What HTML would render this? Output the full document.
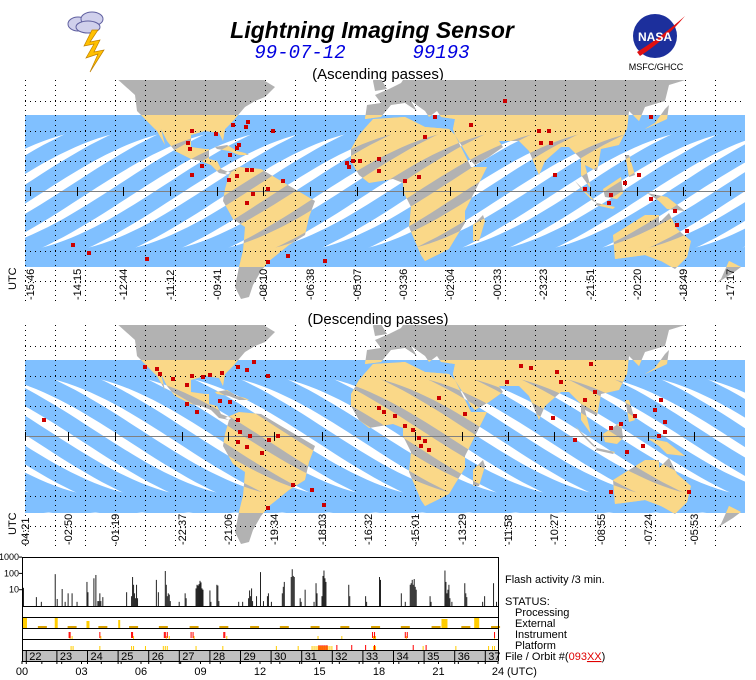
<!DOCTYPE html>
<html><head><meta charset="utf-8"><style>
html,body{margin:0;padding:0;background:#fff;width:756px;height:680px;overflow:hidden}
svg{display:block;font-family:"Liberation Sans",sans-serif}
</style></head><body>
<svg id="root" width="756" height="680" viewBox="0 0 756 680" xmlns="http://www.w3.org/2000/svg">
<defs>
<clipPath id="clipMap1"><rect x="25" y="80" width="720" height="222"/></clipPath>
<clipPath id="clipMap2"><rect x="25" y="325" width="720" height="222"/></clipPath>
<clipPath id="band1"><rect x="25" y="115" width="720" height="152"/></clipPath>
<clipPath id="band2"><rect x="25" y="360" width="720" height="153"/></clipPath>
<clipPath id="land1"></clipPath>
<clipPath id="land2"></clipPath>
</defs>
<g>
<ellipse cx="78" cy="24" rx="10" ry="7" fill="#d0d0ec" stroke="#6060a0"/>
<ellipse cx="92" cy="19" rx="11" ry="7" fill="#d0d0ec" stroke="#6060a0"/>
<ellipse cx="88" cy="27" rx="12" ry="6" fill="#d0d0ec" stroke="#6060a0"/>
<polygon points="92,30 84,46 94,44 86,58 98,54 90,72 104,50 94,52 100,40 90,42 98,30" fill="#ffc000" stroke="#c08000" stroke-width="0.7"/>
</g>
<text x="372" y="38" text-anchor="middle" font-size="23" font-weight="bold" font-style="italic">Lightning Imaging Sensor</text>
<text x="300" y="58" text-anchor="middle" font-size="19" font-style="italic" fill="#0000e0" font-family="Liberation Mono, monospace">99-07-12</text>
<text x="441" y="58" text-anchor="middle" font-size="19" font-style="italic" fill="#0000e0" font-family="Liberation Mono, monospace">99193</text>
<text x="378" y="79" text-anchor="middle" font-size="15">(Ascending passes)</text>
<g>
<circle cx="655" cy="36" r="22" fill="#1c2f9c"/>
<path d="M637,52 Q660,38 685,16 Q665,40 640,56 Z" fill="#e01010"/>
<text x="655" y="41" text-anchor="middle" font-size="12" font-weight="bold" fill="#fff">NASA</text>
<text x="656" y="70" text-anchor="middle" font-size="9">MSFC/GHCC</text>
</g>
<g id="map1"></g>
<text x="378" y="324" text-anchor="middle" font-size="15">(Descending passes)</text>
<g id="map2"></g>
<g id="panel"></g>
</svg>
<script>
var ascTickLabels = ["-15:46","-14:15","-12:44","-11:12","-09:41","-08:10","-06:38","-05:07","-03:36","-02:04","-00:33","-23:23","-21:51","-20:20","-18:49","-17:17"];
var descTickLabels = ["04:21","-02:50","-01:19","-22:37","-21:06","-19:34","-18:03","-16:32","-15:01","-13:29","-11:58","-10:27","-08:55","-07:24","-05:53"];
var descTickLons = [-180,-158.5,-135,-101.5,-78.5,-55.5,-31.5,-8.5,15,38.5,61.5,84.5,108,131.5,154.5];
var ascLon = [-177.5,-154,-131,-107.5,-84,-61,-37.5,-14,9,32.5,56,79,102.5,126,149,172.5];
var ascFlashLon = [-68.5,-69.5,-76,-84.5,-96.5,-56,-98.5,-97.5,-74,-73,-77.5,-91.5,-96.5,-78,-74,-69,-66.5,-51,-58.5,-66,-69,-156,-148,-119,-58.5,-48.5,-30,-19,-16,-12.5,17,10,-3,-18,20,43,78,83,85,100,112,113,120,127,133,145,146,77,60,82,133,151,-3,25];
var ascFlashLat = [34.5,32,33,28.5,30,30,24,21,21.5,23,18,12.5,8,5.5,7.5,10.5,10.5,5,1,-1.5,-6,-27,-31,-34,-35.5,-32.5,-35,14,15,15,7,5,16,12,27,33,24,24,8,1,-6,-2,4,8,-4,-10,-17,30,45,30,37,-20,10,37];
var descFlashLon = [-120,-114,-112.5,-106,-99,-96.5,-91,-87.5,-81.5,-73.5,-69,-65.5,-58.5,-82.5,-77.5,-99,-94,-73.5,-69,-61.5,-58,-53.5,-73.5,-72.5,-67.5,-46,-36.5,-30.5,-58.5,-170.5,-3,-0.5,5,10,14,17,20,18,22,27,40,61,68,73,86,88,103,100,105,113,118,125,135,138,140,140,121,129,137,113,152,84,95];
var descFlashLat = [34.5,33.5,31,28.5,25.5,30,29.5,30.5,31.5,34.5,33,37,30,17.5,17,16,12,-3,-5.5,-8.5,-2,0,8,2,0,-24.5,-27,-34.5,-36,8,14,12,10,5,3,-1,-2.5,-5,-7,19,11,27,35,34,32,27,36,18,22,4,6,10,13,18,7,2,-8,-5,0,-28,-28,9,-2];
var flashBins = [1,14,19,33,35,40,43,46,50,55,65,66,72,74,76,77,78,79,81,105,110,111,112,113,114,115,116,135,137,144,145,146,147,148,149,158,164,165,175,176,177,178,179,180,181,182,189,190,196,197,198,218,222,228,229,230,231,232,236,240,243,247,248,251,262,263,264,271,272,273,274,280,281,285,294,296,297,302,303,304,305,306,329,330,346,347,360,361,382,386,391,392,393,394,395,396,397,411,412,426,427,428,429,430,431,433,446,447,448,464,466,475,478];
var flashValues = [13,3.5,1.8,90,2.7,11,1.8,6,6,1.8,30,7,50,80,2,2,6,2,3.5,7,4,60,20,6,3,20,3,40,7,140,20,4,6,5,2,1.8,6,3,12,20,18,22,35,28,12,10,9,1.8,20,18,2,1.8,1.8,3,9,4,12,2,4,120,2,4,6,1.8,6,15,30,60,180,70,60,3,1.8,10,1.8,25,6,4,70,150,50,30,20,4,4,1.8,60,40,6,1.8,20,25,40,20,45,15,10,4,1.8,150,30,6,10,20,3,1.8,25,6,3.5,1.8,4,25,1.8];
var extStart = [16,46,77,108,138,169,199,230,260,291,321,352,382,413,443,473];
var extTallStart = [0,33,65,97,423,456];
var extTallWidth = [5,3,3,2,6,5];
var extTallHeight = [10,10,7,8,9,10];
var instRedBins = [47,48,78,110,111,143,144,146,170,172,203,204,353,355,386,388,476];
var instYellowBins = [48,50,79,112,145,148,173,206,298,322,354,355,356,387,476];
var platRedBins = [0,299,301,303,305,307,317,332,346,355,394,407];
var platYellowBins = [49,51,78,110,112,124,142,144,146,175,202,256,278,292,294,296,298,300,302,304,306,308,310,312,354,356,404,437,470,474,476];
var orbitLabels = ["22","23","24","25","26","27","28","29","30","31","32","33","34","35","36","37"];
var hourLabels = ["00","03","06","09","12","15","18","21","24"];

var LAND = [
[[-180,72],[-180,64],[-168,64],[-160,58],[-150,60],[-135,57],[-125,48],[-124,40],[-117,33],[-114,30],[-110,23],[-112,31],[-109,25],[-105,20],[-97,16],[-92,15],[-87,13],[-83,9],[-78,8],[-77,9],[-82,11],[-84,15],[-88,16],[-88,21],[-90,21],[-97,22],[-97,28],[-90,30],[-83,29],[-81,25],[-80,31],[-76,35],[-70,42],[-65,45],[-60,47],[-55,52],[-60,55],[-62,60],[-20,60],[-20,80],[-180,80]],
[[-85,22],[-79,23],[-74,20],[-70,19],[-68,18],[-73,18],[-78,20],[-84,21]],
[[-80,9],[-73,12],[-62,11],[-52,5],[-35,-5],[-38,-13],[-40,-22],[-48,-27],[-58,-35],[-62,-40],[-66,-47],[-68,-53],[-72,-54],[-75,-48],[-73,-38],[-71,-30],[-70,-18],[-76,-14],[-81,-5],[-80,1],[-78,8]],
[[-17,15],[-17,21],[-13,28],[-6,36],[10,37],[20,32],[32,31],[35,28],[43,12],[51,12],[45,0],[40,-10],[40,-16],[35,-24],[32,-29],[20,-35],[18,-32],[12,-18],[13,-8],[9,0],[9,4],[4,6],[-8,4],[-13,8]],
[[-10,36],[-9,43],[-2,44],[-5,48],[2,51],[8,54],[10,57],[5,62],[5,80],[180,80],[180,65],[160,60],[155,57],[142,53],[140,45],[130,42],[127,35],[122,40],[121,31],[117,23],[108,21],[106,10],[100,13],[103,1],[98,8],[98,16],[92,22],[88,22],[80,15],[77,8],[72,20],[67,25],[57,25],[59,22],[52,17],[45,13],[43,15],[35,28],[34,31],[35,36],[28,37],[26,40],[22,37],[20,40],[13,45],[16,40],[10,44],[3,43],[-2,37]],
[[114,-22],[122,-17],[130,-12],[137,-12],[137,-16],[142,-11],[146,-19],[153,-25],[151,-33],[145,-39],[138,-35],[130,-32],[115,-34]],
[[109,1],[118,7],[119,-1],[116,-4],[110,-3]],
[[95,5],[106,-6],[104,-5],[99,0]],
[[131,-1],[141,-3],[150,-10],[141,-9],[137,-5]],
[[130,31],[141,36],[142,43],[140,41],[135,34]],
[[44,-25],[47,-25],[50,-15],[49,-12],[44,-17]],
[[-5,50],[1,51],[-2,56],[-5,58],[-6,55]],
[[120,18],[122,18],[125,8],[122,7],[121,13]],
[[106,-6],[115,-8],[114,-9],[105,-7]],
[[166,-46],[174,-41],[178,-38],[172,-35],[168,-44]]
];

var NS='http://www.w3.org/2000/svg';
function mk(tag, attrs, parent){var e=document.createElementNS(NS,tag);for(var k in attrs)e.setAttribute(k,attrs[k]);if(parent)parent.appendChild(e);return e;}
function lonX(lon){return 385+lon*2;}
function latY(lat,eq){return eq-lat*2;}

function landPath(eq){
  var d='';
  LAND.forEach(function(p){p.forEach(function(pt,i){d+=(i?'L':'M')+lonX(pt[0]).toFixed(1)+','+latY(pt[1],eq).toFixed(1);});d+='Z';});
  return d;
}
function stripes(g, c0, eq, dir, color){
  var per=46.7, half=8, A=35*2;
  for(var k=-20;k<30;k++){
    var cx=c0+k*per;
    if(cx<-200||cx>950)continue;
    var up=[],dn=[];
    for(var t=-100;t<=100;t+=4){
      var x=cx+2*t, y=eq-dir*A*Math.sin(Math.PI*t/170);
      var dy=-dir*A*Math.cos(Math.PI*t/170)*Math.PI/170/2;
      var n=Math.sqrt(1+dy*dy);
      var nx=-dy/n, ny=1/n;
      up.push((x+nx*half).toFixed(1)+','+(y+ny*half).toFixed(1));
      dn.unshift((x-nx*half).toFixed(1)+','+(y-ny*half).toFixed(1));
    }
    var s=mk('polygon',{points:up.concat(dn).join(' '),fill:color},g);
    
    
  }
}

function buildMap(id, eq, clipMap, band, landClip, dir, stripeCenter, tickXs, labels, dotLon, dotLat, top, bottom){
  var root=document.getElementById(id);
  var g=mk('g',{'clip-path':'url(#'+clipMap+')'},root);
  var lp=landPath(eq);
  mk('path',{d:lp},document.getElementById(landClip));
  var sb=mk('g',{'clip-path':'url(#'+band+')'},g);
  
  
  stripes(sb,stripeCenter,eq,dir,'#80c0ff');
  var land=mk('path',{d:lp,fill:'#b2b2b2'},g);
  
  
  var lg=mk('g',{'clip-path':'url(#'+landClip+')'},g);
  var lb=mk('g',{'clip-path':'url(#'+band+')'},lg);
  
  
  stripes(lb,stripeCenter,eq,dir,'#fad888');
  for(var x=25;x<=745;x+=30){mk('line',{x1:x+0.5,y1:top,x2:x+0.5,y2:bottom,stroke:'#000','stroke-dasharray':'1 4'},g);}
  for(var k=-3;k<=3;k++){if(k===0)continue;var y=eq+k*30;mk('line',{x1:25,y1:y+0.5,x2:745,y2:y+0.5,stroke:'#000','stroke-dasharray':'1 4'},g);}
  var eqL=mk('line',{x1:25,y1:eq+0.5,x2:745,y2:eq+0.5,stroke:'#808080'},g);
  
  
  for(var i=0;i<dotLon.length;i++){
    var r=mk('rect',{x:lonX(dotLon[i])-2,y:latY(dotLat[i],eq)-2,width:4,height:4,fill:'#cc0000'},g);
    
    
  }
  for(var j=0;j<labels.length;j++){
    var tx=tickXs[j];
    mk('line',{x1:tx+0.5,y1:eq-4,x2:tx+0.5,y2:eq+5,stroke:'#000'},root);
    var t=mk('text',{transform:'translate('+(tx+4)+','+(bottom-2)+') rotate(-90)','font-size':'11'},root);
    t.textContent=labels[j];
    
    
  }
  var u=mk('text',{transform:'translate(16,'+(bottom-12)+') rotate(-90)','font-size':'11'},root);
  u.textContent='UTC';
  
  
}

var ascX=ascLon.map(lonX), descX=descTickLons.map(lonX);
buildMap('map1',191,'clipMap1','band1','land1',1,ascX[0],ascX,ascTickLabels,ascFlashLon,ascFlashLat,80,302);
buildMap('map2',436,'clipMap2','band2','land2',-1,descX[3],descX,descTickLabels,descFlashLon,descFlashLat,325,547);

var P=document.getElementById('panel');
var L=22,R=498;
function xBin(b){return L+b*(R-L)/480;}
function yLog(v){return 606-Math.log(v)/Math.LN10*16.3;}
function xHour(h){return L+h*(R-L)/24;}
function bar(x,y,w,h,fill,name){var r=mk('rect',{x:x,y:y,width:w,height:h,fill:fill},P);return r;}
bar(L,650,R-L,11,'#c0c0c0','orbit-strip');
for(var i=0;i<flashBins.length;i++){var y=yLog(flashValues[i]);bar(xBin(flashBins[i]),y,1,606-y,'#222','flash-bar');}
for(i=0;i<extStart.length;i++){bar(xBin(extStart[i]),626,9,2,'#d8a000','external-status');}
for(i=0;i<extTallStart.length;i++){bar(xBin(extTallStart[i]),628-extTallHeight[i],extTallWidth[i],extTallHeight[i],'#ffcc00','external-event');}
for(i=0;i<instYellowBins.length;i++){bar(xBin(instYellowBins[i]),636,1,3,'#ffcc00','instrument-minor');}
for(i=0;i<instRedBins.length;i++){bar(xBin(instRedBins[i]),632,1,6,'#ff0000','instrument-event');}
for(i=0;i<platYellowBins.length;i++){bar(xBin(platYellowBins[i]),646,1,4,'#ffcc00','platform-minor');}
for(i=0;i<platRedBins.length;i++){bar(xBin(platRedBins[i]),645,1,5,'#ff0000','platform-event');}
bar(L,640,1,10,'#ff0000','platform-event');
[557,606,617,628,639,650,661].forEach(function(y){mk('line',{x1:L,y1:y+0.5,x2:R,y2:y+0.5,stroke:'#000'},P);});
mk('line',{x1:L+0.5,y1:557,x2:L+0.5,y2:661,stroke:'#000'},P);
mk('line',{x1:R+0.5,y1:557,x2:R+0.5,y2:661,stroke:'#000'},P);
var yTickVals=[1000,100,10];
yTickVals.forEach(function(v){var y=yLog(v);mk('line',{x1:L-3,y1:y,x2:L,y2:y,stroke:'#000'},P);
  var t=mk('text',{x:L-3,y:y+3,'text-anchor':'end','font-size':'9'},P);t.textContent=String(v);
  });
for(i=0;i<orbitLabels.length;i++){
  var ox=26.3+30.6*i;
  mk('line',{x1:ox,y1:650,x2:ox,y2:664,stroke:'#000'},P);
  var t=mk('text',{x:ox+3,y:660,'font-size':'11'},P);t.textContent=orbitLabels[i];
  
}
for(var h=0;h<=24;h++){mk('line',{x1:xHour(h),y1:661,x2:xHour(h),y2:664,stroke:'#000'},P);}
for(i=0;i<hourLabels.length;i++){
  var t=mk('text',{x:xHour(i*3),y:675,'text-anchor':'middle','font-size':'11'},P);t.textContent=hourLabels[i];
  
}
function lbl(x,y,s,name){var t=mk('text',{x:x,y:y,'font-size':'11'},P);t.textContent=s;return t;}
lbl(507,675,'(UTC)','utc-unit-label');
lbl(505,583,'Flash activity /3 min.','flash-activity-label');
lbl(505,605,'STATUS:','status-label');
lbl(515,616,'Processing','processing-label');
lbl(515,627,'External','external-label');
lbl(515,638,'Instrument','instrument-label');
lbl(515,649,'Platform','platform-label');
var f=lbl(505,660,'','orbit-file-label');
f.innerHTML='File / Orbit #(<tspan fill="#e00000">093</tspan><tspan fill="#e00000" text-decoration="underline">XX</tspan>)';
</script>
</body></html>
